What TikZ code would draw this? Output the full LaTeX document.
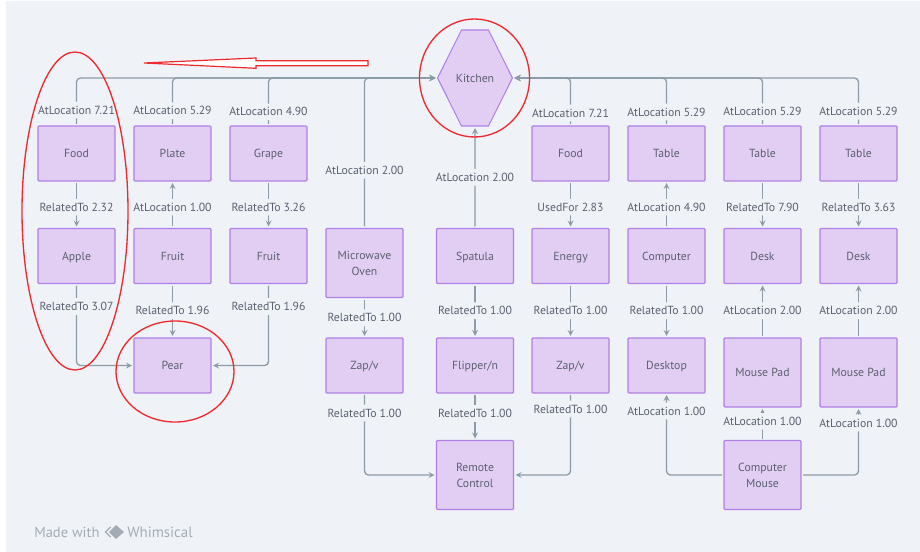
\documentclass[tikz,border=0pt]{standalone}
\usepackage{fontspec}
\setmainfont{PT Sans}
\usetikzlibrary{shapes.symbols}
\definecolor{panelbg}{HTML}{EFF3F7}
\definecolor{boxfill}{HTML}{E2CEF3}
\definecolor{boxline}{HTML}{B07FE6}
\definecolor{linkgray}{HTML}{8C9BA8}
\definecolor{textgray}{HTML}{5B6070}
\definecolor{markred}{HTML}{EE2A30}
\definecolor{logogray}{HTML}{A3ACB5}
\begin{document}
\begin{tikzpicture}[
            x = .75pt, y = -.75pt, % reference pixels
            > = stealth, % arrow head style
            shorten > = 1.5pt, % don't touch arrow head to node
            shorten < = 1.5pt,
            font = \fontsize{8.8}{12}\selectfont,
            tallbox/.style = {draw=boxline, fill=boxfill, line width=.9pt, rounded corners=.8pt, text=textgray,
                minimum width=57.75pt, minimum height=51.75pt, inner sep=0pt, outer sep=0pt, align=center},
            box/.style = {tallbox, minimum height=41.25pt, text height=7.2pt, text depth=1pt},
            link/.style = {draw=linkgray, line width=1pt, rounded corners=3pt, every edge/.style={draw=linkgray}},
            lbl/.style = {fill=panelbg, text=textgray, inner xsep=1pt, inner ysep=0pt, minimum height=12.5pt},
            ring/.style = {draw=markred, line width=1pt}
        ]
\useasboundingbox (0,0) rectangle (920,552);
\fill[panelbg] (6,1) rectangle (920,552);

\node[draw=boxline, fill=boxfill, line width=.8pt, text=textgray, inner ysep=0pt, inner xsep=-4.2pt, outer sep=0pt,
      shape=signal, signal to=east and west, signal pointer angle=127,
      minimum height=72pt] (Kitchen) at (475,78) {Kitchen};

\node[box] (Food) at (76.5,153.5) {Food};
\node[box] (Plate) at (172.5,153.5) {Plate};
\node[box] (Grape) at (268.5,153.5) {Grape};
\node[box] (FoodB) at (570.5,153.5) {Food};
\node[box] (TableA) at (666.5,153.5) {Table};
\node[box] (TableB) at (762.5,153.5) {Table};
\node[box] (TableC) at (858.5,153.5) {Table};

\node[box] (Apple) at (76.5,256) {Apple};
\node[box] (FruitA) at (172.5,256) {Fruit};
\node[box] (FruitB) at (268.5,256) {Fruit};
\node[tallbox] (Oven) at (364.5,263) {Microwave\\Oven};
\node[box] (Spatula) at (475,256) {Spatula};
\node[box] (Energy) at (570.5,256) {Energy};
\node[box] (Computer) at (666.5,256) {Computer};
\node[box] (DeskA) at (762.5,256) {Desk};
\node[box] (DeskB) at (858.5,256) {Desk};

\node[box] (Pear) at (172.5,365.5) {Pear};
\node[box] (ZapA) at (364.5,365.5) {Zap/v};
\node[box] (Flipper) at (475,365.5) {Flipper/n};
\node[box] (ZapB) at (570.5,365.5) {Zap/v};
\node[box] (Desktop) at (666.5,365.5) {Desktop};
\node[tallbox] (PadA) at (762.5,372.5) {Mouse Pad};
\node[tallbox] (PadB) at (858.5,372.5) {Mouse Pad};

\node[tallbox] (Remote) at (475,475) {Remote\\Control};
\node[tallbox] (Mouse) at (762.5,475) {Computer\\Mouse};

% into the kitchen
\path[->,link] (Food.north) |- node[lbl,pos=.167] {AtLocation 7.21} (Kitchen.west);
\path[->,link] (Plate.north) |- node[lbl,pos=.159] {AtLocation 5.29} (Kitchen.west);
\path[->,link] (Grape.north) |- node[lbl,pos=.147] {AtLocation 4.90} (Kitchen.west);
\path[->,link] (Oven.north) |- node[lbl,pos=.193] {AtLocation 2.00} (Kitchen.west);
\path[->,link] (Spatula) edge node[lbl,pos=.5] {AtLocation 2.00} (Kitchen);
\path[->,link] (FoodB.north) |- node[lbl,pos=.136] {AtLocation 7.21} (Kitchen.east);
\path[->,link] (TableA.north) |- node[lbl,pos=.146] {AtLocation 5.29} (Kitchen.east);
\path[->,link] (TableB.north) |- node[lbl,pos=.15] {AtLocation 5.29} (Kitchen.east);
\path[->,link] (TableC.north) |- node[lbl,pos=.154] {AtLocation 5.29} (Kitchen.east);

% second row
\path[->,link] (Food) edge node[lbl,pos=.55] {RelatedTo 2.32} (Apple);
\path[->,link] (FruitA) edge node[lbl,pos=.45] {AtLocation 1.00} (Plate);
\path[->,link] (Grape) edge node[lbl,pos=.55] {RelatedTo 3.26} (FruitB);
\path[->,link] (FoodB) edge node[lbl,pos=.55] {UsedFor 2.83} (Energy);
\path[->,link] (Computer) edge node[lbl,pos=.45] {AtLocation 4.90} (TableA);
\path[->,link] (TableB) edge node[lbl,pos=.55] {RelatedTo 7.90} (DeskA);
\path[->,link] (TableC) edge node[lbl,pos=.55] {RelatedTo 3.63} (DeskB);

% third row
\path[->,link] (Apple.south) |- node[lbl,pos=.14] {RelatedTo 3.07} (Pear.west);
\path[->,link] (FruitA) edge node[lbl,pos=.5] {RelatedTo 1.96} (Pear);
\path[->,link] (FruitB.south) |- node[lbl,pos=.14] {RelatedTo 1.96} (Pear.east);
\path[->,link] (Oven) edge node[lbl,pos=.5] {RelatedTo 1.00} (ZapA);
\path[->,link] (Spatula) edge node[lbl,pos=.5] {RelatedTo 1.00} (Flipper);
\path[->,link] (Energy) edge node[lbl,pos=.5] {RelatedTo 1.00} (ZapB);
\path[->,link] (Computer) edge node[lbl,pos=.5] {RelatedTo 1.00} (Desktop);
\path[->,link] (PadA) edge node[lbl,pos=.5] {AtLocation 2.00} (DeskA);
\path[->,link] (PadB) edge node[lbl,pos=.5] {AtLocation 2.00} (DeskB);

% bottom row
\path[->,link] (ZapA.south) |- node[lbl,pos=.122] {RelatedTo 1.00} (Remote.west);
\path[->,link] (Flipper) edge node[lbl,pos=.43] {RelatedTo 1.00} (Remote);
\path[->,link] (ZapB.south) |- node[lbl,pos=.098] {RelatedTo 1.00} (Remote.east);
\path[->,link] (Mouse.west) -| node[lbl,pos=.89] {AtLocation 1.00} (Desktop.south);
\path[->,link] (Mouse) edge node[lbl,pos=.57] {AtLocation 1.00} (PadA);
\path[->,link] (Mouse.east) -| node[lbl,pos=.882] {AtLocation 1.00} (PadB.south);

% red marks
\draw[ring] (75,211) ellipse [x radius=53, y radius=159];
\draw[ring] (175,371.5) ellipse [x radius=59, y radius=50.5];
\draw[ring] (474.5,78) ellipse [x radius=55, y radius=59];
\draw[ring, fill=white, line width=.9pt] (144,63) -- (256,58) -- (256,60.7) -- (368,60.7) -- (368,65.7) -- (256,65.7) -- (256,68.3) -- cycle;

% watermark
\node[text=logogray, font=\fontsize{10.9}{12}\selectfont, anchor=west, inner sep=0pt] (Made) at (34,532) {Made with};
\node[text=logogray, font=\fontsize{11.2}{12}\selectfont, anchor=west, inner sep=0pt] (Whim) at (127,532) {Whimsical};
\fill[logogray] (116,525) -- (124,532) -- (116,539) -- (109,532) -- cycle;
\draw[logogray, line width=.9pt] (112,525.5) -- (105.5,532) -- (112,538.5);
\end{tikzpicture}
\end{document}
